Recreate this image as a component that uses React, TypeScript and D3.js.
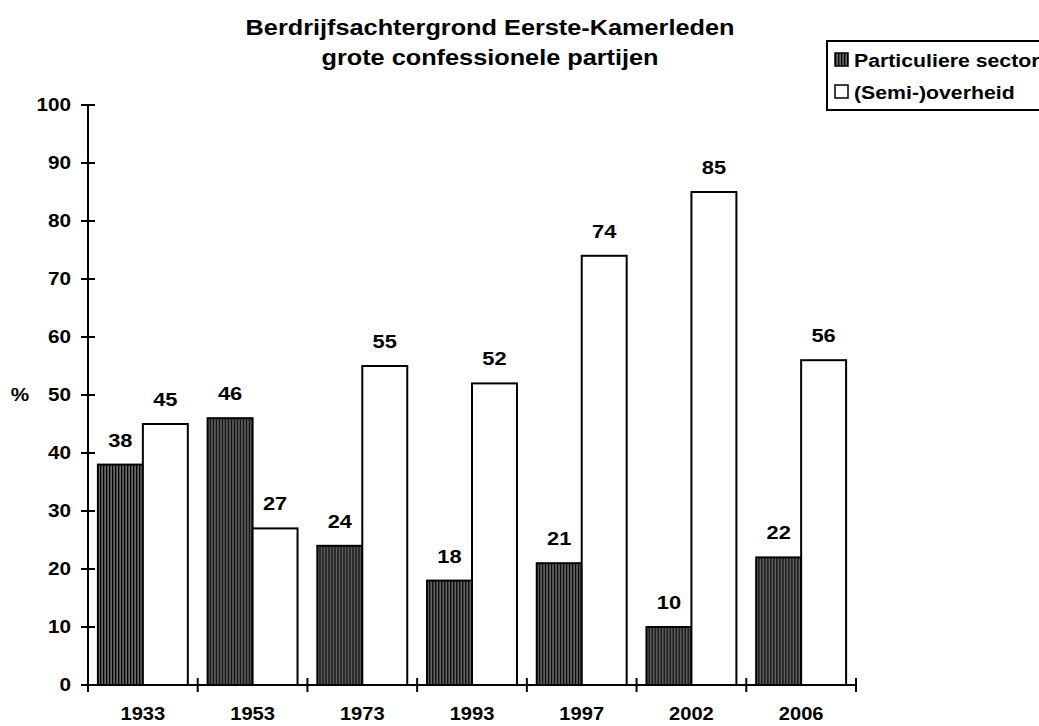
import * as d3 from "d3";
import { useEffect, useRef } from "react";

const years = ["1933", "1953", "1973", "1993", "1997", "2002", "2006"];
const seriesNames = ["Particuliere sector", "(Semi-)overheid"];
const particulier = [38, 46, 24, 18, 21, 10, 22];
const overheid = [45, 27, 55, 52, 74, 85, 56];
const yTicks = [0, 10, 20, 30, 40, 50, 60, 70, 80, 90, 100];
const titleLines = ["Berdrijfsachtergrond Eerste-Kamerleden", "grote confessionele partijen"];

const W = 1039;
const H = 726;
const font = "'Liberation Sans', Arial, sans-serif";
// the reference text is a bit wider than plain Arial
const SX = 1.15;

export default function App() {
  const svgRef = useRef<SVGSVGElement>(null);

  useEffect(() => {
    const svg = d3.select(svgRef.current);
    svg.selectAll("*").remove();

    // hatch pattern for the dark bars
    const defs = svg.append("defs");
    const pat = defs.append("pattern")
      .attr("id", "hatch")
      .attr("patternUnits", "userSpaceOnUse")
      .attr("width", 3)
      .attr("height", 3);
    pat.append("rect").attr("width", 3).attr("height", 3).attr("fill", "#6a6a6a");
    pat.append("rect").attr("width", 1.3).attr("height", 3).attr("fill", "#000");

    const x0 = d3.scaleBand<string>().domain(years).range([88, 856]).padding(0);
    const x1 = d3.scaleBand<string>()
      .domain(seriesNames)
      .range([0, x0.bandwidth()])
      .paddingInner(0)
      .paddingOuter(0.22);
    const y = d3.scaleLinear().domain([0, 100]).range([685, 105]);

    const data = years.map((yr, i) => ({
      year: yr,
      values: [
        { key: seriesNames[0], value: particulier[i] },
        { key: seriesNames[1], value: overheid[i] },
      ],
    }));

    const at = (x: number, yy: number) => `translate(${x},${yy}) scale(${SX},1)`;

    // title
    svg.append("g")
      .selectAll("text")
      .data(titleLines)
      .join("text")
      .attr("transform", (_, i) => at(490, 35 + i * 30))
      .attr("text-anchor", "middle")
      .attr("font-family", font)
      .attr("font-weight", "bold")
      .attr("font-size", 22)
      .text((d) => d);

    // bars
    const groups = svg.append("g")
      .selectAll("g")
      .data(data)
      .join("g")
      .attr("transform", (d) => `translate(${x0(d.year)},0)`);

    groups.selectAll("rect")
      .data((d) => d.values)
      .join("rect")
      .attr("x", (d) => x1(d.key)!)
      .attr("y", (d) => y(d.value))
      .attr("width", x1.bandwidth())
      .attr("height", (d) => y(0) - y(d.value))
      .attr("fill", (d, i) => (i === 0 ? "url(#hatch)" : "#fff"))
      .attr("stroke", "#000")
      .attr("stroke-width", 2);

    groups.selectAll("text")
      .data((d) => d.values)
      .join("text")
      .attr("transform", (d) => at(x1(d.key)! + x1.bandwidth() / 2, y(d.value) - 18))
      .attr("text-anchor", "middle")
      .attr("font-family", font)
      .attr("font-weight", "bold")
      .attr("font-size", 19)
      .text((d) => d.value);

    // y axis
    const gy = svg.append("g").attr("transform", "translate(88,0)");
    gy.append("line")
      .attr("x1", 0).attr("x2", 0)
      .attr("y1", y(100)).attr("y2", y(0))
      .attr("stroke", "#000").attr("stroke-width", 2);
    gy.selectAll("line.tick")
      .data(yTicks)
      .join("line")
      .attr("class", "tick")
      .attr("x1", -7).attr("x2", 7)
      .attr("y1", (d) => y(d)).attr("y2", (d) => y(d))
      .attr("stroke", "#000").attr("stroke-width", 2);
    gy.selectAll("text")
      .data(yTicks)
      .join("text")
      .attr("transform", (d) => at(-17, y(d)))
      .attr("dy", "0.35em")
      .attr("text-anchor", "end")
      .attr("font-family", font)
      .attr("font-weight", "bold")
      .attr("font-size", 18)
      .text((d) => d);

    svg.append("text")
      .attr("transform", at(20, y(50)))
      .attr("dy", "0.35em")
      .attr("text-anchor", "middle")
      .attr("font-family", font)
      .attr("font-weight", "bold")
      .attr("font-size", 18)
      .text("%");

    // x axis
    const gx = svg.append("g");
    gx.append("line")
      .attr("x1", 88).attr("x2", 856)
      .attr("y1", y(0)).attr("y2", y(0))
      .attr("stroke", "#000").attr("stroke-width", 2);
    const bounds = years.map((yr) => x0(yr)!).concat([x0(years[years.length - 1])! + x0.bandwidth()]);
    gx.selectAll("line.tick")
      .data(bounds)
      .join("line")
      .attr("class", "tick")
      .attr("x1", (d) => d).attr("x2", (d) => d)
      .attr("y1", y(0) - 7).attr("y2", y(0) + 7)
      .attr("stroke", "#000").attr("stroke-width", 2);
    gx.selectAll("text")
      .data(years)
      .join("text")
      .attr("transform", (d) => at(x0(d)! + x0.bandwidth() / 2, 720))
      .attr("text-anchor", "middle")
      .attr("font-family", font)
      .attr("font-weight", "bold")
      .attr("font-size", 17.5)
      .text((d) => d);

    // legend
    const lg = svg.append("g");
    lg.append("rect")
      .attr("x", 827).attr("y", 41)
      .attr("width", 230).attr("height", 69)
      .attr("fill", "#fff")
      .attr("stroke", "#000").attr("stroke-width", 2);
    const items = lg.selectAll("g.item")
      .data(seriesNames)
      .join("g")
      .attr("class", "item")
      .attr("transform", (_, i) => `translate(835,${53 + i * 32})`);
    items.append("rect")
      .attr("width", 13).attr("height", 13)
      .attr("fill", (_, i) => (i === 0 ? "url(#hatch)" : "#fff"))
      .attr("stroke", "#000").attr("stroke-width", 1.5);
    items.append("text")
      .attr("transform", at(19, 14))
      .attr("font-family", font)
      .attr("font-weight", "bold")
      .attr("font-size", 18.5)
      .text((d) => d);
  }, []);

  return (
    <svg
      ref={svgRef}
      width={W}
      height={H}
      viewBox={`0 0 ${W} ${H}`}
      style={{ position: "absolute", left: 0, top: 0, background: "#fff" }}
    />
  );
}
